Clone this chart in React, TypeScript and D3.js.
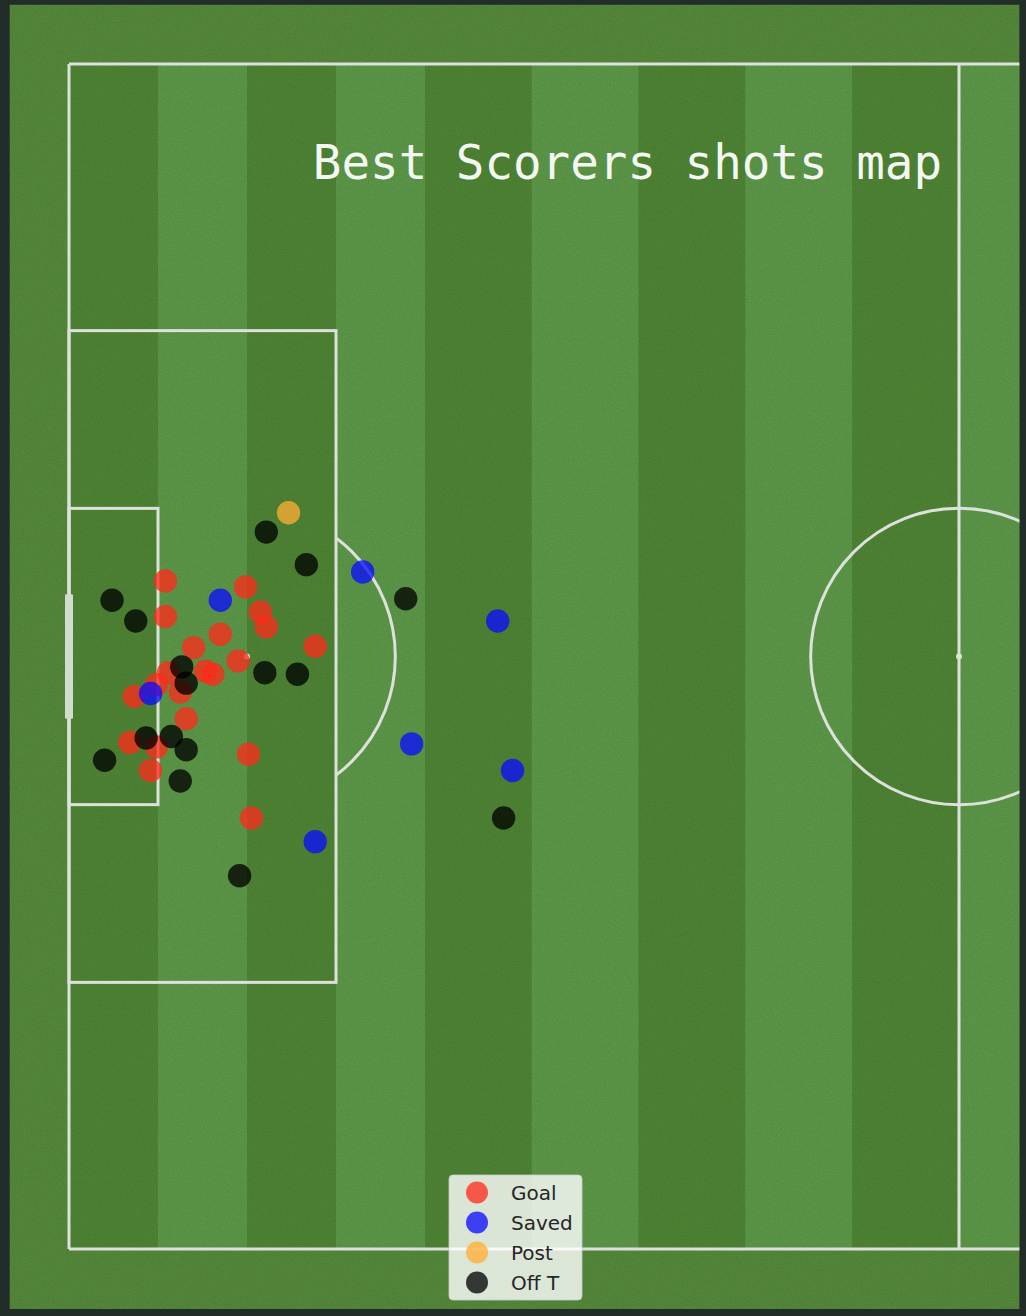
import React from "react";
import * as d3 from "d3";

// Shot locations in StatsBomb pitch units (x: 0-120 length, y: 0-80 width)
const goalX = [6.5, 11.9, 6.5, 12.9, 13.3, 10.2, 8.4, 16.6, 11.4, 9.2, 9.7, 6.7, 5.9, 4.4, 7.5, 7.9, 4.1, 5.9, 5.5, 12.1, 12.3];
const goalY = [34.9, 35.3, 37.3, 37.0, 38.0, 38.5, 39.4, 39.3, 40.3, 41.0, 41.2, 41.1, 41.9, 42.7, 42.4, 44.2, 45.8, 46.1, 47.7, 46.6, 50.9];

const savedX = [19.8, 10.2, 28.9, 5.5, 23.1, 29.9, 16.6];
const savedY = [34.3, 36.2, 37.6, 42.5, 45.9, 47.7, 52.5];

const postX = [14.8];
const postY = [30.3];

const offX = [13.3, 16.0, 2.9, 4.5, 22.7, 7.6, 7.9, 13.2, 15.4, 5.2, 6.9, 7.9, 2.4, 7.5, 29.3, 11.5];
const offY = [31.6, 33.8, 36.2, 37.6, 36.1, 40.7, 41.8, 41.1, 41.2, 45.5, 45.4, 46.3, 47.0, 48.4, 50.9, 54.8];

const outcomes = ["Goal", "Saved", "Post", "Off T"];
const outcomeColors = ["#ff2a1a", "#0a0aff", "#ffad33", "#000000"];

const stripeEdges = [0, 6, 12, 18, 24, 31.2, 38.4, 45.6, 52.8, 60, 66];

const W = 1026;
const H = 1316;

export default function App() {
  const x = d3.scaleLinear().domain([0, 60]).range([69, 959]);
  const y = d3.scaleLinear().domain([0, 80]).range([64, 1249]);
  const color = d3.scaleOrdinal<string, string>().domain(outcomes).range(outcomeColors);

  const padL = x(-4);
  const padR = x(64.07);
  const padT = y(-4);
  const padB = y(84.05);

  const lineC = "#dde1dc";
  const lw = 3;

  const series = [
    { name: "Goal", xs: goalX, ys: goalY },
    { name: "Saved", xs: savedX, ys: savedY },
    { name: "Post", xs: postX, ys: postY },
    { name: "Off T", xs: offX, ys: offY },
  ];

  const r = 11.7;
  const alpha = 0.76;

  return (
    <svg
      width={W}
      height={H}
      style={{ position: "absolute", left: 0, top: 0, display: "block" }}
    >
      <defs>
        <filter id="grain" x="0" y="0" width="100%" height="100%">
          <feTurbulence type="fractalNoise" baseFrequency="0.85" numOctaves="2" seed="3" result="n" />
          <feColorMatrix
            type="matrix"
            values="0 0 0 0 0  0 0 0 0 0  0 0 0 0 0  0 0 0 -1.1 0.9"
          />
        </filter>
        <clipPath id="arcClip">
          <rect x={x(18)} y={y(0)} width={x(40) - x(18)} height={y(80) - y(0)} />
        </clipPath>
        <clipPath id="pitchClip">
          <rect x={padL} y={padT} width={padR - padL} height={padB - padT} />
        </clipPath>
      </defs>
      <rect x={0} y={0} width={W} height={H} fill="#222d29" />
      <rect x={padL} y={padT} width={padR - padL} height={padB - padT} fill="#568a3b" />
      {stripeEdges.slice(0, -1).map((e, i) => (
        <rect
          key={"s" + i}
          x={x(e)}
          y={y(0)}
          width={Math.min(x(stripeEdges[i + 1]), padR) - x(e)}
          height={y(80) - y(0)}
          fill={i % 2 === 0 ? "#4f8535" : "#5d9949"}
        />
      ))}
      <rect
        x={padL}
        y={padT}
        width={padR - padL}
        height={padB - padT}
        filter="url(#grain)"
        opacity={0.14}
      />
      <g fill="none" stroke={lineC} strokeWidth={lw} clipPath="url(#pitchClip)">
        <line x1={x(0)} y1={y(0)} x2={padR + 2} y2={y(0)} />
        <line x1={x(0)} y1={y(80)} x2={padR + 2} y2={y(80)} />
        <line x1={x(0)} y1={y(0)} x2={x(0)} y2={y(80)} />
        <line x1={x(60)} y1={y(0)} x2={x(60)} y2={y(80)} />
        <rect x={x(0)} y={y(18)} width={x(18) - x(0)} height={y(62) - y(18)} />
        <rect x={x(0)} y={y(30)} width={x(6) - x(0)} height={y(50) - y(30)} />
        <circle cx={x(12)} cy={y(40)} r={x(10) - x(0)} clipPath="url(#arcClip)" />
        <circle cx={x(60)} cy={y(40)} r={x(10) - x(0)} />
      </g>
      <circle cx={x(12)} cy={y(40)} r={3} fill={lineC} />
      <circle cx={x(60)} cy={y(40)} r={3} fill={lineC} />
      <rect
        x={x(0) - 4}
        y={y(36) - 3}
        width={8}
        height={y(44) - y(36) + 6}
        fill="#cfdccf"
        rx={1}
      />
      <text
        x={942}
        y={179}
        textAnchor="end"
        fontFamily="'DejaVu Sans Mono', monospace"
        fontSize={47.5}
        fill="#f4f6f2"
      >
        Best Scorers shots map
      </text>
      {series.map((s) => (
        <g key={s.name}>
          {s.xs.map((vx, i) => (
            <circle
              key={i}
              cx={x(vx)}
              cy={y(s.ys[i])}
              r={r}
              fill={color(s.name)}
              fillOpacity={alpha}
            />
          ))}
        </g>
      ))}
      <g>
        <rect
          x={449}
          y={1175}
          width={133}
          height={125}
          rx={4}
          fill="#ffffff"
          fillOpacity={0.8}
          stroke="#cccccc"
          strokeOpacity={0.8}
        />
        {outcomes.map((o, i) => (
          <g key={o}>
            <circle cx={477} cy={1192.5 + i * 30} r={11} fill={color(o)} fillOpacity={alpha} />
            <text
              x={511}
              y={1199.5 + i * 30}
              fontFamily="'DejaVu Sans', sans-serif"
              fontSize={20}
              fill="#262626"
            >
              {o}
            </text>
          </g>
        ))}
      </g>
    </svg>
  );
}
